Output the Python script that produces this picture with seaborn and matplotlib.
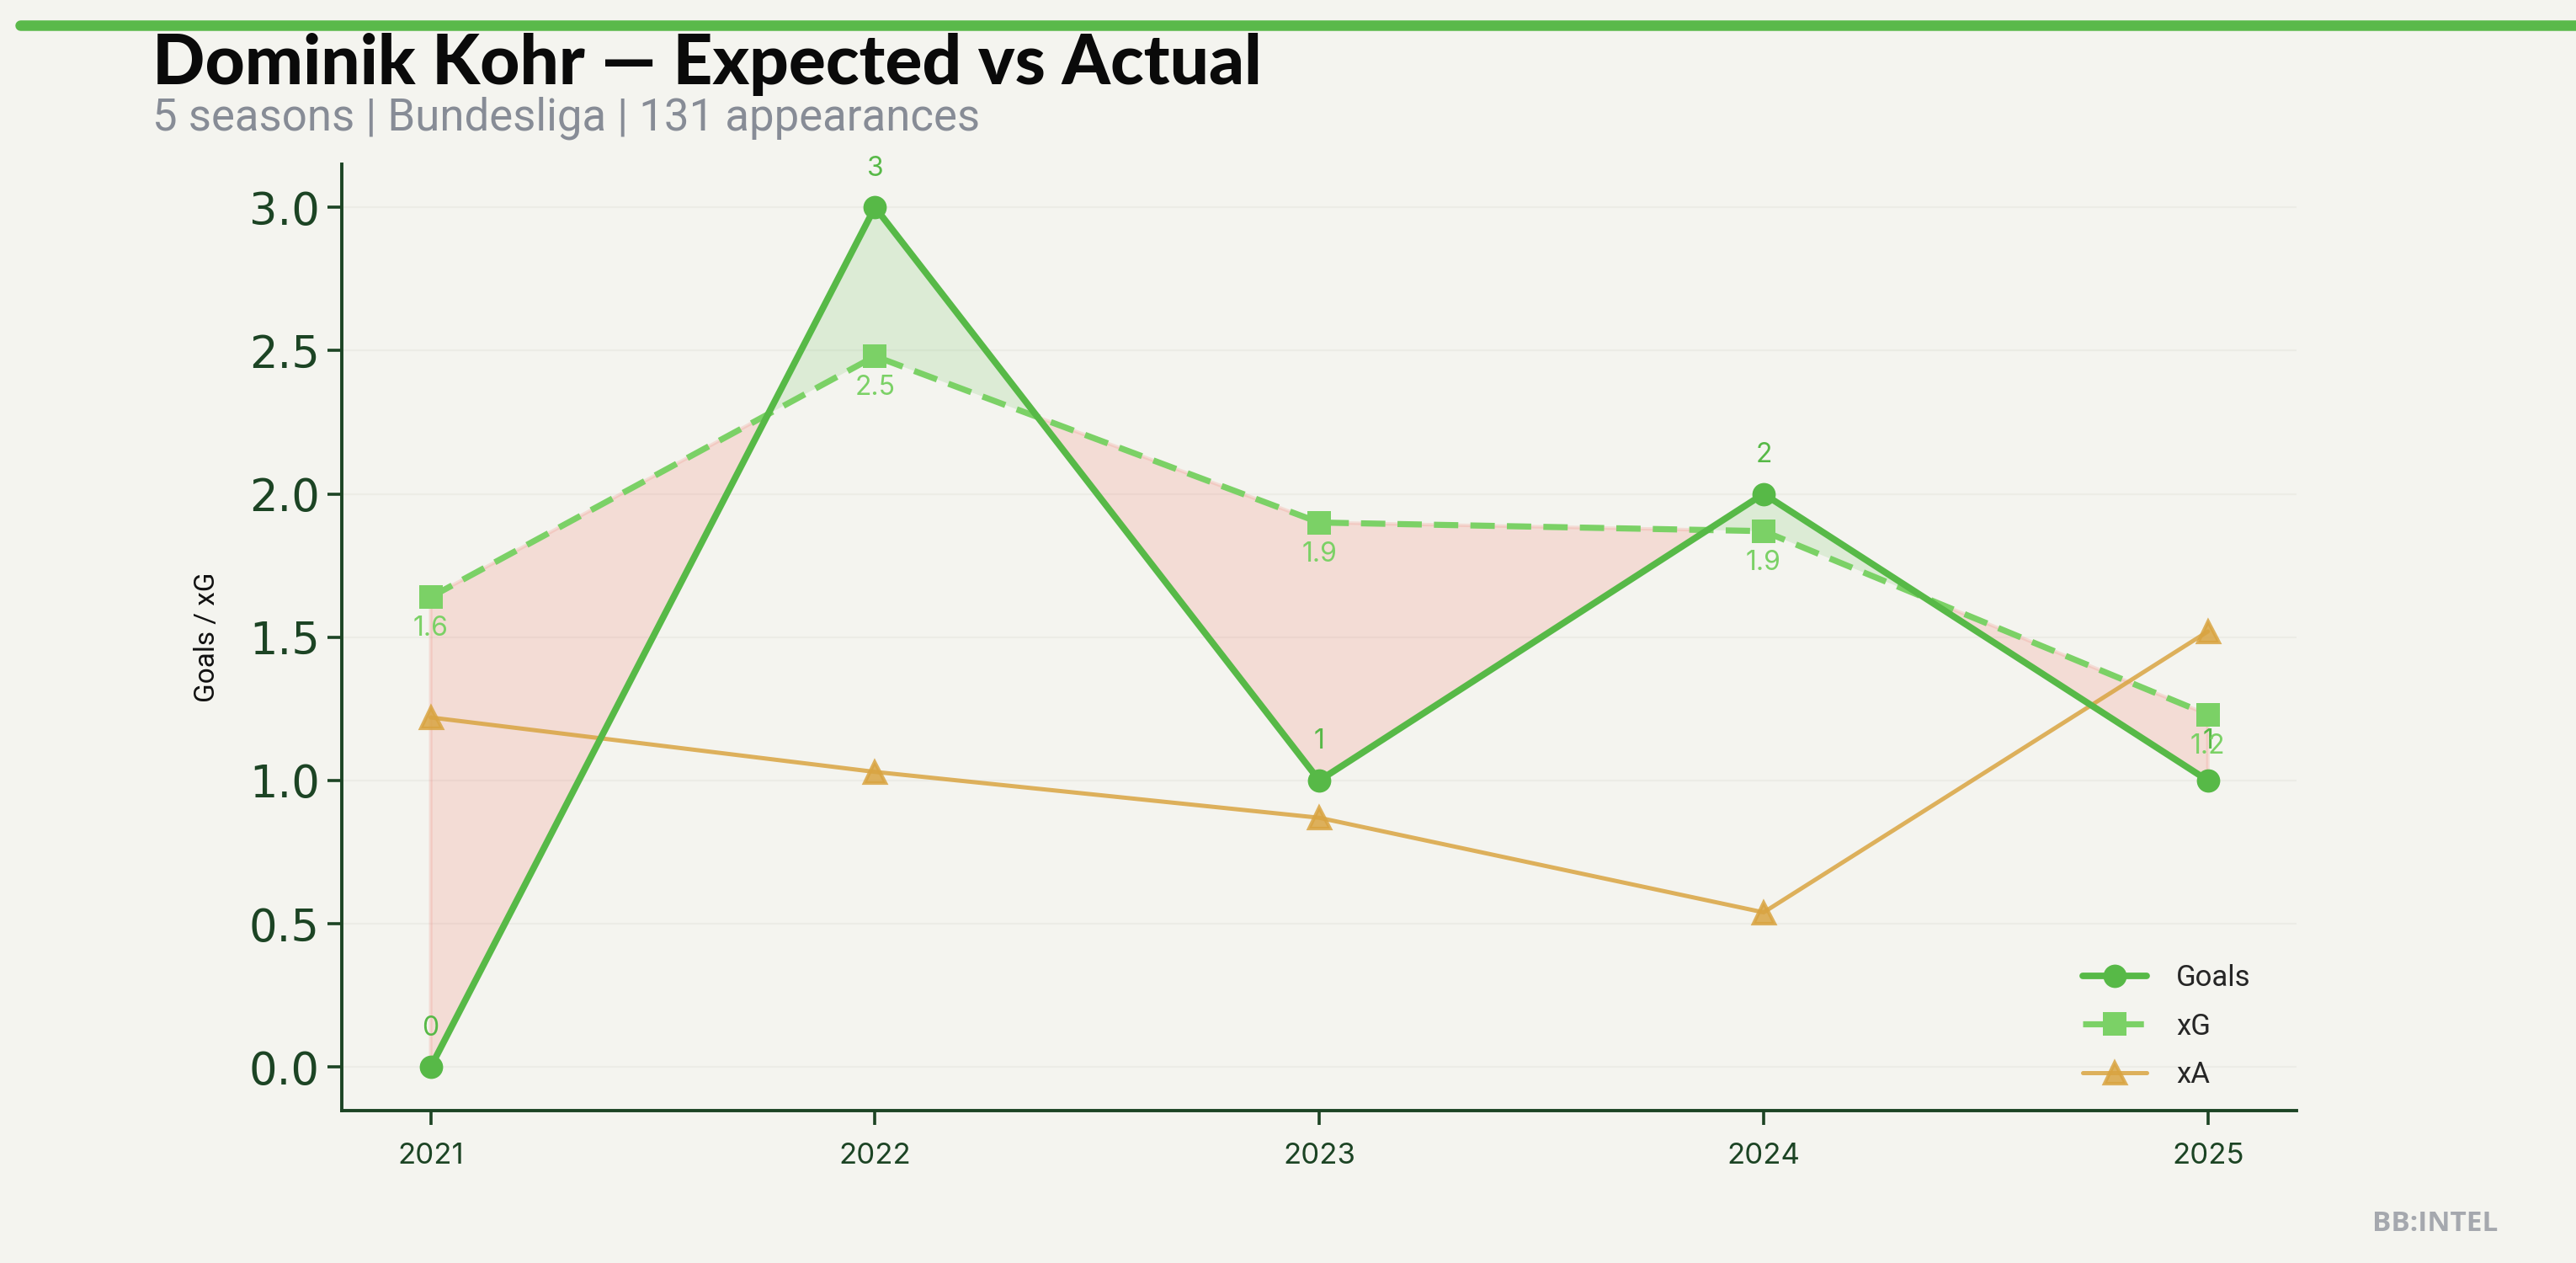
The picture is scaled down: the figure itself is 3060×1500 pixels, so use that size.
import matplotlib
matplotlib.use("Agg")
import matplotlib.pyplot as plt
import matplotlib.font_manager as fm
import seaborn as sns
import numpy as np

# data
seasons = [2021, 2022, 2023, 2024, 2025]
goals = [0, 3, 1, 2, 1]
xg = [1.64, 2.48, 1.90, 1.87, 1.23]
xa = [1.22, 1.03, 0.87, 0.54, 1.52]
xg_labels = ["1.6", "2.5", "1.9", "1.9", "1.2"]

BG = "#f4f4ef"
GOALS_C = "#57b947"
XG_C = "#7bd166"
XA_C = "#d9a441"
DARK = "#1c4424"

sns.set_theme(style="white")
names = {f.name for f in fm.fontManager.ttflist}
narrow = "Liberation Sans Narrow" if "Liberation Sans Narrow" in names else "Roboto"
plt.rcParams["font.family"] = ["Inter", "DejaVu Sans"]

fig = plt.figure(figsize=(15.3, 7.5), dpi=200, facecolor=BG)
ax = fig.add_axes([0.1327, 0.121, 0.7589, 0.749])
ax.set_facecolor(BG)

x = np.array(seasons, dtype=float)
g = np.array(goals, dtype=float)
e = np.array(xg, dtype=float)
ax.fill_between(x, g, e, where=g >= e, interpolate=True, color=GOALS_C, alpha=0.15, lw=0)
ax.fill_between(x, g, e, where=g < e, interpolate=True, color="#f0877c", alpha=0.22, lw=1.5)

sns.lineplot(x=seasons, y=goals, ax=ax, color=GOALS_C, lw=2.8, marker="o", markersize=10,
             markeredgewidth=0, label="Goals", zorder=4)
sns.lineplot(x=seasons, y=xg, ax=ax, color=XG_C, lw=2.6, marker="s", markersize=10,
             markeredgewidth=0, label="xG", zorder=3)
ax.lines[-1].set_linestyle((0, (4, 2)))
sns.lineplot(x=seasons, y=xa, ax=ax, color=XA_C, lw=1.8, marker="^", markersize=9,
             alpha=0.85, markeredgecolor=XA_C, markeredgewidth=1.5, label="xA", zorder=2)

for s, v in zip(seasons, goals):
    ax.annotate(str(v), (s, v), xytext=(0, 11), textcoords="offset points",
                ha="center", va="bottom", fontsize=11.5, color=GOALS_C)
for s, v, t in zip(seasons, xg, xg_labels):
    ax.annotate(t, (s, v), xytext=(0, -8), textcoords="offset points",
                ha="center", va="top", fontsize=11.5, color=XG_C)

ax.set_xticks(seasons)
ax.set_xticklabels([str(s) for s in seasons], fontsize=12.5, color=DARK)
ax.set_yticks([0.0, 0.5, 1.0, 1.5, 2.0, 2.5, 3.0])
ax.set_yticklabels(["0.0", "0.5", "1.0", "1.5", "2.0", "2.5", "3.0"], fontsize=19,
                   color=DARK, family="DejaVu Sans")
ax.tick_params(axis="both", which="major", length=6, width=1.3, color=DARK, left=True, bottom=True)
ax.tick_params(axis="x", pad=8)
ax.set_xlabel("")
ax.set_ylabel("Goals / xG", fontsize=12, color="#111111", family=narrow, labelpad=12)
ax.yaxis.grid(True, color="#ececE6", lw=0.8)
ax.set_axisbelow(True)
for side in ["top", "right"]:
    ax.spines[side].set_visible(False)
for side in ["left", "bottom"]:
    ax.spines[side].set_color(DARK)
    ax.spines[side].set_linewidth(1.4)

leg = ax.legend(loc="lower right", frameon=False, fontsize=12.5, bbox_to_anchor=(0.99, -0.005),
                handlelength=2.2, labelspacing=0.7, handletextpad=1.0)
for t in leg.get_texts():
    t.set_family(narrow)

# header bar, title, subtitle, footer
fig.add_artist(plt.Line2D([0.0077, 1.0], [0.980, 0.980], transform=fig.transFigure,
                          color="#5ab94a", lw=4.5))
fig.text(0.059, 0.924, "Dominik Kohr — Expected vs Actual", fontsize=29.5, fontweight="black",
         color="#0a0a0a", family=["Lato", "DejaVu Sans"], va="bottom")
fig.text(0.059, 0.889, "5 seasons | Bundesliga | 131 appearances", fontsize=19,
         color="#878c96", family=narrow, va="bottom")
fig.text(0.9696, 0.025, "BB:INTEL", fontsize=12, fontweight="bold", color="#a5a8ae",
         family=["Open Sans", "DejaVu Sans"], ha="right", va="baseline")

fig.savefig("out.png", dpi=200, facecolor=BG)
